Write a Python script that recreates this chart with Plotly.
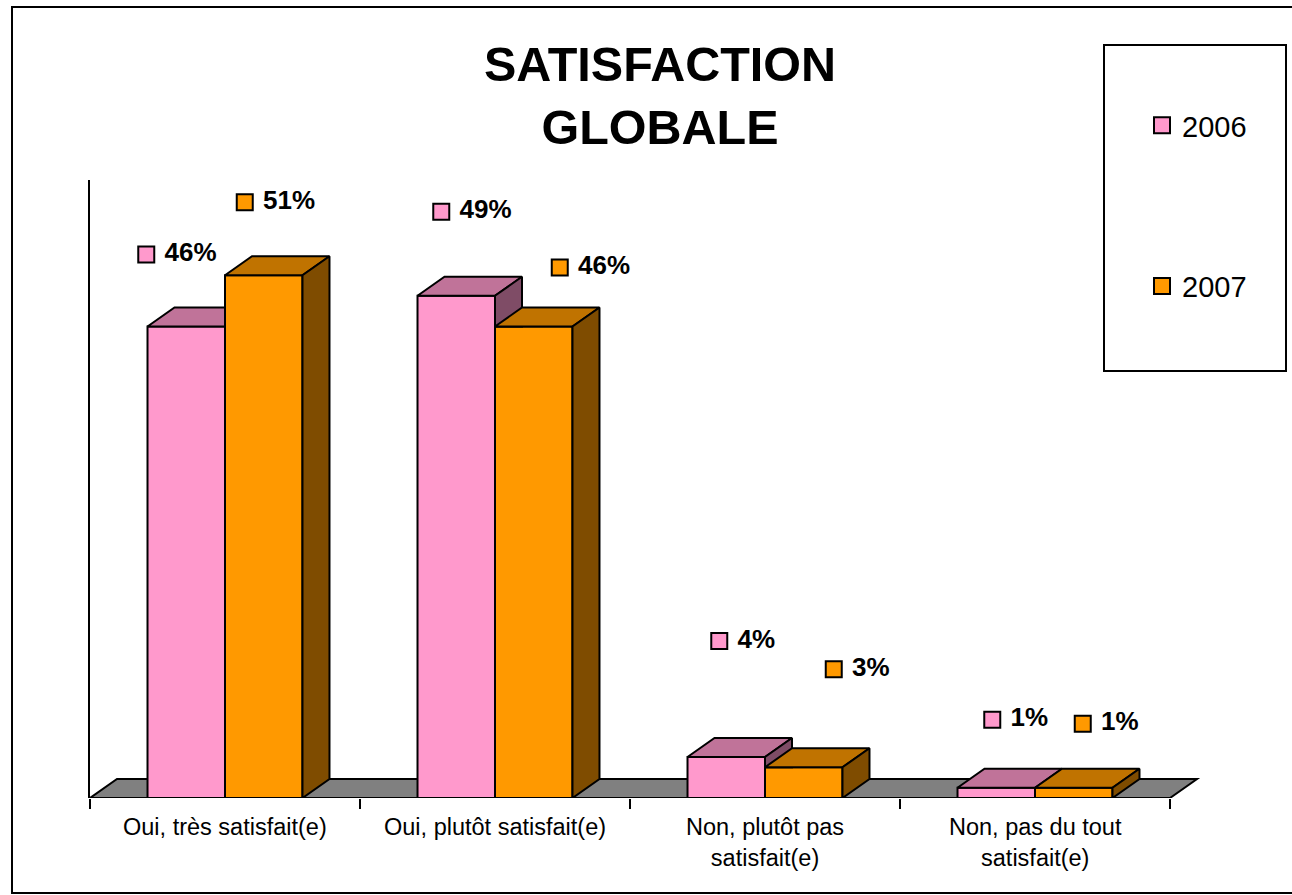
import plotly.graph_objects as go

# ---------------- data ----------------
categories = ["Oui, très satisfait(e)", "Oui, plutôt satisfait(e)",
              "Non, plutôt pas<br>satisfait(e)", "Non, pas du tout<br>satisfait(e)"]
series_names = ["2006", "2007"]
values_2006 = [46, 49, 4, 1]
values_2007 = [51, 46, 3, 1]
labels_2006 = ["46%", "49%", "4%", "1%"]
labels_2007 = ["51%", "46%", "3%", "1%"]

# ---------------- style / layout ----------------
FONT = "Arial, Liberation Sans, sans-serif"
PINK, PINK_TOP, PINK_SIDE = "#FF99CC", "#C07399", "#7F4C66"
ORANGE, ORANGE_TOP, ORANGE_SIDE = "#FF9900", "#C07300", "#7F4C00"
FLOOR = "#808080"

W, H = 1292, 895
L, R, T, B = 90, 80, 180, 97
PW, PH = W - L - R, H - T - B
PX_PER_X = 270.0          # pixels per category
PX_PER_Y = 10.25          # pixels per percent
XMIN = -0.5
XMAX = XMIN + PW / PX_PER_X
YMAX = PH / PX_PER_Y
DX = 27 / PX_PER_X        # 3-D depth offset (x)
DY = 19 / PX_PER_Y        # 3-D depth offset (y)
BARW = 0.287

# label offsets (pixels) of each value label's key relative to its bar top centre
label_off_2006 = [(-40, -72), (-15, -84), (-7, -116), (-4, -68)]
label_off_2007 = [(-19, -73), (26, -59), (30, -98), (9, -64)]


def paper_x(px):
    return (px - L) / PW


def paper_y(py):
    return (H - B - py) / PH


fig = go.Figure()

# front faces
xs = list(range(len(categories)))
fig.add_trace(go.Bar(x=xs, y=values_2006, name=series_names[0], showlegend=False,
                     marker=dict(color=PINK, line=dict(color="black", width=2)),
                     hoverinfo="skip"))
fig.add_trace(go.Bar(x=xs, y=values_2007, name=series_names[1], showlegend=False,
                     marker=dict(color=ORANGE, line=dict(color="black", width=2)),
                     hoverinfo="skip"))


def poly(pts, color):
    px = [p[0] for p in pts] + [pts[0][0]]
    py = [p[1] for p in pts] + [pts[0][1]]
    fig.add_trace(go.Scatter(x=px, y=py, mode="lines", fill="toself", fillcolor=color,
                             line=dict(color="black", width=2), showlegend=False,
                             hoverinfo="skip"))


for i in xs:
    vp, vo = values_2006[i], values_2007[i]
    xp0, xp1, xo1 = i - BARW, i, i + BARW
    # pink top
    if vp >= vo:
        poly([(xp0, vp), (xp1, vp), (xp1 + DX, vp + DY), (xp0 + DX, vp + DY)], PINK_TOP)
        if vp > vo:
            poly([(xp1, vo), (xp1, vp), (xp1 + DX, vp + DY), (xp1 + DX, vo)], PINK_SIDE)
    else:
        poly([(xp0, vp), (xp1, vp), (xp1, vp + DY), (xp0 + DX, vp + DY)], PINK_TOP)
    # orange top and side
    poly([(xp1, vo), (xo1, vo), (xo1 + DX, vo + DY), (xp1 + DX, vo + DY)], ORANGE_TOP)
    poly([(xo1, 0), (xo1, vo), (xo1 + DX, vo + DY), (xo1 + DX, DY)], ORANGE_SIDE)

# value labels (key square + text)
for vals, labs, offs, col, sgn in [(values_2006, labels_2006, label_off_2006, PINK, -1),
                                   (values_2007, labels_2007, label_off_2007, ORANGE, 1)]:
    lx = [i + sgn * BARW / 2 + offs[i][0] / PX_PER_X for i in xs]
    ly = [vals[i] - offs[i][1] / PX_PER_Y for i in xs]
    fig.add_trace(go.Scatter(x=lx, y=ly, mode="markers+text",
                             text=["\u00a0" + t for t in labs],
                             textposition="middle right",
                             textfont=dict(family=FONT, size=26, color="black", weight="bold"),
                             marker=dict(symbol="square", size=16, color=col,
                                         line=dict(color="black", width=2)),
                             showlegend=False, hoverinfo="skip", cliponaxis=False))

# legend entries (square keys like the reference)
for name, col, grp in [(series_names[0], PINK, "a"), (series_names[1], ORANGE, "b")]:
    fig.add_trace(go.Scatter(x=[None], y=[None], mode="markers", name=name, legendgroup=grp,
                             marker=dict(symbol="square", size=16, color=col,
                                         line=dict(color="black", width=2)),
                             showlegend=True, hoverinfo="skip"))

shapes = [
    # floor
    dict(type="path", xref="x", yref="y", layer="below",
         path=f"M{XMIN},0 L{len(xs)-0.5},0 L{len(xs)-0.5+DX},{DY} L{XMIN+DX},{DY} Z",
         fillcolor=FLOOR, line=dict(color="black", width=2)),
    # legend box
    dict(type="rect", xref="paper", yref="paper", x0=paper_x(1104), x1=paper_x(1286),
         y0=paper_y(371), y1=paper_y(45), line=dict(color="black", width=2),
         fillcolor="rgba(0,0,0,0)"),
    # outer border
    dict(type="rect", xref="paper", yref="paper", x0=paper_x(12), x1=paper_x(1310),
         y0=paper_y(893), y1=paper_y(7), line=dict(color="black", width=2),
         fillcolor="rgba(0,0,0,0)"),
]

annotations = [
    dict(x=i, xref="x", y=paper_y(812), yref="paper", yanchor="top", xanchor="center",
         text=c, showarrow=False, font=dict(family=FONT, size=23.5, color="black"))
    for i, c in enumerate(categories)
]

fig.update_layout(
    width=W, height=H,
    margin=dict(l=L, r=R, t=T, b=B, pad=0),
    paper_bgcolor="white", plot_bgcolor="white",
    barmode="group", bargap=1 - 2 * BARW, bargroupgap=0,
    title=dict(text="<b>SATISFACTION<br>GLOBALE</b>", x=660 / W, xref="container",
               xanchor="center", y=1 - 81 / H, yref="container", yanchor="top",
               font=dict(family=FONT, size=48.5, color="black")),
    xaxis=dict(range=[XMIN, XMAX], showgrid=False, zeroline=False, showline=False,
               tickmode="array", tickvals=[x - 0.5 for x in xs] + [len(xs) - 0.5],
               ticktext=[""] * (len(xs) + 1), ticks="outside", ticklen=10, tickwidth=2,
               tickcolor="black", fixedrange=True),
    yaxis=dict(range=[0, YMAX], showgrid=False, zeroline=False, showline=True,
               linecolor="black", linewidth=2, showticklabels=False, ticks="",
               fixedrange=True),
    legend=dict(x=paper_x(1142), y=paper_y(100), xanchor="left", yanchor="top",
                font=dict(family=FONT, size=29, color="black"), tracegroupgap=120,
                bgcolor="rgba(0,0,0,0)", borderwidth=0, traceorder="grouped",
                itemwidth=30),
    shapes=shapes, annotations=annotations,
    font=dict(family=FONT),
    showlegend=True,
)

fig.write_html("out.html", config={"displayModeBar": False},
               post_script="document.body.style.margin='0px';")
